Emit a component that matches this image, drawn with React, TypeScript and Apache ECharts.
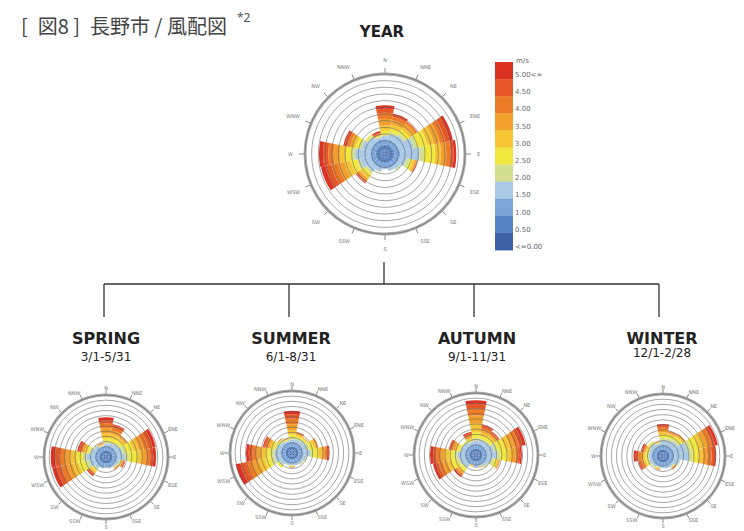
import React, { useEffect, useRef } from "react";
import * as echarts from "echarts";

// 16 wind directions (clockwise from north)
const DIRS = ["N", "NNE", "NE", "ENE", "E", "ESE", "SE", "SSE", "S", "SSW", "SW", "WSW", "W", "WNW", "NW", "NNW"];

// speed classes, lowest (index 0) to highest (index 10)
const CLASS_COLORS = [
  "#3e60a6", "#5683c4", "#7ba6da", "#a9c9e6", "#d2df93", "#f1e83f",
  "#f6c534", "#f29f2b", "#ec7a27", "#e65727", "#dd3223",
];
// legend labels, top to bottom
const SPEED_LABELS = ["5.00<=", "4.50", "4.00", "3.50", "3.00", "2.50", "2.00", "1.50", "1.00", "0.50", "<=0.00"];

const SEASON_NAMES = ["SPRING", "SUMMER", "AUTUMN", "WINTER"];
const SEASON_PERIODS = ["3/1-5/31", "6/1-8/31", "9/1-11/31", "12/1-2/28"];

// frequency per direction (rows, DIRS order) per speed class (columns, low -> high), in ring units
const YEAR_DATA = [
  [0.5, 0.9, 0.8, 0.5, 0.3, 0.5, 0.8, 1.0, 0.9, 0.6, 0.5],
  [0.5, 0.9, 0.8, 0.8, 0.4, 0.6, 0.6, 0.6, 0.5, 0.3, 0.2],
  [0.5, 0.9, 0.8, 1.2, 0.4, 0.6, 0.6, 0.5, 0.3, 0.1, 0.0],
  [0.5, 0.9, 0.8, 2.2, 0.6, 1.5, 1.0, 0.9, 0.8, 0.7, 0.5],
  [0.5, 0.9, 0.9, 2.9, 0.7, 1.6, 0.9, 0.8, 0.6, 0.5, 0.4],
  [0.5, 0.9, 0.8, 1.1, 0.5, 0.5, 0.3, 0.2, 0.1, 0.1, 0.0],
  [0.5, 0.9, 0.8, 0.6, 0.1, 0.1, 0, 0, 0, 0, 0],
  [0.5, 0.9, 0.8, 0.4, 0, 0, 0, 0, 0, 0, 0],
  [0.5, 0.9, 0.7, 0.2, 0, 0, 0, 0, 0, 0, 0],
  [0.5, 0.9, 0.8, 0.5, 0.1, 0, 0, 0, 0, 0, 0],
  [0.5, 0.9, 0.8, 1.0, 0.4, 0.5, 0.4, 0.3, 0.3, 0.1, 0.1],
  [0.5, 0.9, 0.8, 1.6, 0.5, 0.9, 1.0, 1.0, 1.0, 0.9, 0.7],
  [0.5, 0.9, 0.8, 2.3, 0.5, 0.9, 0.9, 0.9, 0.8, 0.8, 0.6],
  [0.5, 0.9, 0.8, 1.4, 0.4, 0.5, 0.5, 0.4, 0.4, 0.4, 0.2],
  [0.5, 0.9, 0.8, 0.9, 0.3, 0.2, 0, 0, 0, 0, 0],
  [0.5, 0.9, 0.8, 0.4, 0.1, 0.1, 0.1, 0.1, 0.2, 0.1, 0.2],
];

const SPRING_DATA = [
  [0.5, 0.8, 0.8, 0.5, 0.4, 0.7, 0.9, 1.0, 0.9, 0.6, 0.6],
  [0.5, 0.8, 0.8, 0.6, 0.4, 0.7, 0.8, 0.7, 0.6, 0.4, 0.2],
  [0.5, 0.8, 0.8, 0.8, 0.5, 0.7, 0.4, 0.3, 0.2, 0, 0],
  [0.5, 0.8, 0.8, 1.2, 0.7, 1.4, 1.1, 1.0, 0.9, 0.8, 0.6],
  [0.5, 0.8, 0.8, 1.6, 0.8, 1.5, 1.0, 0.9, 0.7, 0.6, 0.5],
  [0.5, 0.8, 0.8, 0.6, 0.2, 0.2, 0.1, 0.1, 0.2, 0.2, 0.1],
  [0.5, 0.8, 0.7, 0.4, 0.1, 0.1, 0.1, 0.1, 0.1, 0.1, 0],
  [0.5, 0.8, 0.7, 0.3, 0, 0, 0, 0, 0, 0, 0],
  [0.5, 0.8, 0.6, 0.1, 0, 0, 0, 0, 0, 0, 0],
  [0.5, 0.8, 0.7, 0.3, 0, 0, 0, 0, 0, 0, 0],
  [0.5, 0.8, 0.8, 0.6, 0.4, 0.3, 0.3, 0.2, 0.2, 0.2, 0.2],
  [0.5, 0.8, 0.8, 1.2, 0.8, 1.3, 1.2, 1.2, 1.1, 0.9, 0.8],
  [0.5, 0.8, 0.8, 1.7, 0.7, 1.2, 1.2, 1.1, 1.0, 0.9, 0.8],
  [0.5, 0.8, 0.8, 0.9, 0.4, 0.5, 0.4, 0.4, 0.3, 0.4, 0.3],
  [0.5, 0.8, 0.8, 0.6, 0.2, 0.1, 0, 0, 0, 0, 0],
  [0.5, 0.8, 0.7, 0.2, 0.1, 0.1, 0.1, 0.1, 0.1, 0.1, 0],
];

const SUMMER_DATA = [
  [0.5, 0.8, 0.8, 0.5, 0.4, 0.6, 0.9, 1.1, 1.1, 0.8, 0.7],
  [0.5, 0.8, 0.8, 0.6, 0.3, 0.4, 0.3, 0.2, 0.2, 0.1, 0],
  [0.5, 0.8, 0.8, 0.7, 0.4, 0.3, 0.2, 0.1, 0, 0, 0],
  [0.5, 0.8, 0.8, 0.9, 0.5, 0.8, 0.5, 0.3, 0.1, 0, 0],
  [0.5, 0.8, 0.8, 1.4, 0.6, 1.1, 0.7, 0.5, 0.4, 0.3, 0.2],
  [0.5, 0.8, 0.8, 0.7, 0.2, 0, 0, 0, 0, 0, 0],
  [0.5, 0.8, 0.8, 0.5, 0.1, 0.1, 0, 0, 0, 0, 0],
  [0.5, 0.8, 0.7, 0.5, 0, 0, 0, 0, 0, 0, 0],
  [0.5, 0.8, 0.7, 0.3, 0.1, 0.1, 0.1, 0.1, 0.1, 0, 0],
  [0.5, 0.8, 0.7, 0.4, 0.1, 0, 0, 0, 0, 0, 0],
  [0.5, 0.8, 0.8, 0.7, 0.3, 0.4, 0, 0, 0, 0, 0],
  [0.5, 0.8, 0.8, 1.3, 0.8, 1.2, 1.2, 1.3, 1.2, 1.1, 0.9],
  [0.5, 0.8, 0.8, 1.3, 0.6, 1.0, 1.0, 0.9, 0.8, 0.7, 0.5],
  [0.5, 0.8, 0.8, 0.9, 0.4, 0.6, 0.5, 0.4, 0.4, 0.3, 0.2],
  [0.5, 0.8, 0.8, 0.6, 0.3, 0.2, 0.1, 0.1, 0.1, 0, 0],
  [0.5, 0.8, 0.7, 0.4, 0.2, 0.1, 0.1, 0.1, 0.1, 0, 0],
];

const AUTUMN_DATA = [
  [0.5, 0.8, 0.8, 0.7, 0.5, 1.2, 1.6, 1.6, 1.3, 0.9, 0.7],
  [0.5, 0.8, 0.8, 0.8, 0.4, 0.6, 0.6, 0.5, 0.4, 0.4, 0.2],
  [0.5, 0.8, 0.8, 0.9, 0.4, 0.6, 0.5, 0.4, 0.3, 0.2, 0.1],
  [0.5, 0.8, 0.8, 1.5, 0.7, 1.4, 1.1, 0.9, 0.8, 0.7, 0.6],
  [0.5, 0.8, 0.8, 1.9, 0.7, 1.4, 0.9, 0.7, 0.5, 0.4, 0.3],
  [0.5, 0.8, 0.8, 1.0, 0.5, 0.6, 0.3, 0.2, 0.1, 0, 0],
  [0.5, 0.8, 0.8, 0.6, 0.2, 0.1, 0, 0, 0, 0, 0],
  [0.5, 0.8, 0.7, 0.3, 0.1, 0, 0.1, 0.1, 0, 0, 0],
  [0.5, 0.8, 0.7, 0.5, 0, 0, 0, 0, 0, 0, 0],
  [0.5, 0.8, 0.6, 0.2, 0, 0.1, 0.1, 0.1, 0, 0, 0],
  [0.5, 0.8, 0.8, 0.8, 0.4, 0.5, 0.4, 0.3, 0.3, 0.2, 0.2],
  [0.5, 0.8, 0.8, 1.1, 0.6, 1.0, 0.9, 0.9, 0.8, 0.6, 0.5],
  [0.5, 0.8, 0.8, 1.5, 0.6, 1.0, 0.9, 0.8, 0.8, 0.6, 0.6],
  [0.5, 0.8, 0.8, 0.9, 0.3, 0.5, 0.4, 0.4, 0.4, 0.3, 0.1],
  [0.5, 0.8, 0.8, 0.8, 0.2, 0.2, 0, 0, 0, 0, 0],
  [0.5, 0.8, 0.8, 0.5, 0.3, 0.3, 0.3, 0.3, 0.3, 0.3, 0.2],
];

const WINTER_DATA = [
  [0.5, 0.8, 0.8, 0.9, 0.5, 0.6, 0.5, 0.5, 0.4, 0.4, 0.3],
  [0.5, 0.8, 0.8, 1.0, 0.5, 0.6, 0.3, 0.2, 0.2, 0.1, 0],
  [0.5, 0.8, 0.8, 1.3, 0.5, 0.6, 0.3, 0.2, 0.2, 0, 0],
  [0.5, 0.8, 0.9, 2.6, 0.8, 1.4, 1.1, 0.9, 0.7, 0.6, 0.5],
  [0.5, 0.8, 0.9, 2.8, 0.8, 1.1, 0.9, 0.8, 0.8, 0.6, 0.3],
  [0.5, 0.8, 0.8, 1.2, 0.2, 0, 0, 0, 0, 0, 0],
  [0.5, 0.8, 0.7, 0.6, 0.1, 0.1, 0.1, 0.1, 0.1, 0.1, 0],
  [0.5, 0.8, 0.7, 0.5, 0, 0, 0, 0, 0, 0, 0],
  [0.5, 0.8, 0.7, 0.3, 0, 0, 0, 0, 0, 0, 0],
  [0.5, 0.8, 0.7, 0.3, 0.1, 0.1, 0.1, 0.1, 0.1, 0, 0],
  [0.5, 0.8, 0.8, 0.5, 0.1, 0.1, 0, 0, 0, 0, 0],
  [0.5, 0.8, 0.8, 0.6, 0.3, 0.4, 0.4, 0.3, 0.3, 0.3, 0.2],
  [0.5, 0.8, 0.8, 0.7, 0.3, 0.4, 0.4, 0.4, 0.5, 0.5, 0.4],
  [0.5, 0.8, 0.8, 0.6, 0.2, 0.3, 0.3, 0.3, 0.2, 0.2, 0.2],
  [0.5, 0.8, 0.8, 0.8, 0.3, 0.3, 0, 0, 0, 0, 0],
  [0.5, 0.8, 0.7, 0.5, 0.1, 0.1, 0.1, 0.1, 0.1, 0, 0],
];

const RING_MAX = 12;

export default function App() {
  const ref = useRef<HTMLDivElement>(null);

  useEffect(() => {
    if (!ref.current) return;
    const chart = echarts.init(ref.current, null, { renderer: "svg" });

    const roses = [
      { data: YEAR_DATA, center: [385, 154], radius: 80, margin: 12, tick: 6 },
      { data: SPRING_DATA, center: [106, 457], radius: 62, margin: 5, tick: 5 },
      { data: SUMMER_DATA, center: [292, 453], radius: 62, margin: 5, tick: 5 },
      { data: AUTUMN_DATA, center: [476, 455], radius: 62, margin: 5, tick: 5 },
      { data: WINTER_DATA, center: [663, 456], radius: 62, margin: 5, tick: 5 },
    ];

    const polar: any[] = [];
    const angleAxis: any[] = [];
    const radiusAxis: any[] = [];
    const series: any[] = [];

    roses.forEach((r, k) => {
      polar.push({ center: r.center, radius: r.radius });
      angleAxis.push({
        polarIndex: k,
        type: "category",
        data: DIRS,
        startAngle: 90 + 180 / DIRS.length,
        boundaryGap: true,
        axisLine: { lineStyle: { color: "#ababab", width: 3 } },
        axisTick: { show: true, alignWithLabel: true, length: r.tick, lineStyle: { color: "#888", width: 1 } },
        axisLabel: { fontSize: 5, color: "#777", margin: r.margin, fontFamily: "DejaVu Sans" },
        splitLine: { show: false },
        z: 1,
      });
      radiusAxis.push({
        polarIndex: k,
        type: "value",
        min: 0,
        max: RING_MAX,
        interval: 1,
        axisLine: { show: false },
        axisTick: { show: false },
        axisLabel: { show: false },
        splitLine: { lineStyle: { color: "rgba(95,95,95,0.55)", width: 1 } },
        z: 5,
      });
      for (let c = 0; c < CLASS_COLORS.length; c++) {
        series.push({
          type: "bar",
          coordinateSystem: "polar",
          polarIndex: k,
          stack: "rose" + k,
          name: "r" + k + "c" + c,
          data: r.data.map((row) => row[c]),
          barCategoryGap: "0%",
          itemStyle: { color: CLASS_COLORS[c] },
          silent: true,
          z: 2,
        });
      }
    });

    const graphic: any[] = [];
    // title
    graphic.push({
      type: "text",
      x: 21,
      y: 25,
      style: {
        text: "[\u2002図8 ]\u2002長野市 / 風配図",
        fontSize: 20,
        fontFamily: "Noto Sans CJK JP",
        fill: "#444",
        align: "left",
        verticalAlign: "middle",
      },
    });
    graphic.push({
      type: "text",
      x: 237,
      y: 17,
      style: { text: "*2", fontSize: 12, fontFamily: "Noto Sans", fill: "#555", align: "left", verticalAlign: "middle" },
    });
    graphic.push({
      type: "text",
      x: 382,
      y: 32,
      style: { text: "YEAR", fontSize: 15, fontWeight: "bold", fontFamily: "DejaVu Sans", fill: "#222", align: "center", verticalAlign: "middle" },
    });

    // tree connectors
    const lineStyle = { stroke: "#333", lineWidth: 1.3 };
    graphic.push({ type: "line", shape: { x1: 384, y1: 262, x2: 384, y2: 284 }, style: lineStyle });
    graphic.push({ type: "line", shape: { x1: 104, y1: 284, x2: 659, y2: 284 }, style: lineStyle });
    const seasonX = [104, 289, 474, 659];
    const labelX = [106, 291, 477, 662];
    const periodY = [357, 357, 357, 353];
    seasonX.forEach((x, i) => {
      graphic.push({ type: "line", shape: { x1: x, y1: 284, x2: x, y2: 317 }, style: lineStyle });
      graphic.push({
        type: "text",
        x: labelX[i],
        y: 338,
        style: { text: SEASON_NAMES[i], fontSize: 16, fontWeight: "bold", fontFamily: "DejaVu Sans", fill: "#222", align: "center", verticalAlign: "middle" },
      });
      graphic.push({
        type: "text",
        x: labelX[i],
        y: periodY[i],
        style: { text: SEASON_PERIODS[i], fontSize: 12, fontFamily: "DejaVu Sans", fill: "#222", align: "center", verticalAlign: "middle" },
      });
    });

    // color legend
    const lgX = 495;
    const lgTop = 62;
    const lgH = 17.1;
    graphic.push({
      type: "text",
      x: 516,
      y: 61,
      style: { text: "m/s", fontSize: 7, fontFamily: "DejaVu Sans", fill: "#666", align: "left", verticalAlign: "middle" },
    });
    SPEED_LABELS.forEach((lab, i) => {
      graphic.push({
        type: "rect",
        shape: { x: lgX, y: lgTop + i * lgH, width: 18, height: lgH + 0.3 },
        style: { fill: CLASS_COLORS[CLASS_COLORS.length - 1 - i] },
      });
      graphic.push({
        type: "text",
        x: 515,
        y: 75 + i * 17.2,
        style: { text: lab, fontSize: 7, fontFamily: "DejaVu Sans", fill: "#666", align: "left", verticalAlign: "middle" },
      });
    });

    chart.setOption({
      animation: false,
      backgroundColor: "#ffffff",
      polar,
      angleAxis,
      radiusAxis,
      series,
      graphic,
    });

    return () => chart.dispose();
  }, []);

  return <div ref={ref} style={{ position: "fixed", left: 0, top: 0, width: 744, height: 531 }} />;
}
